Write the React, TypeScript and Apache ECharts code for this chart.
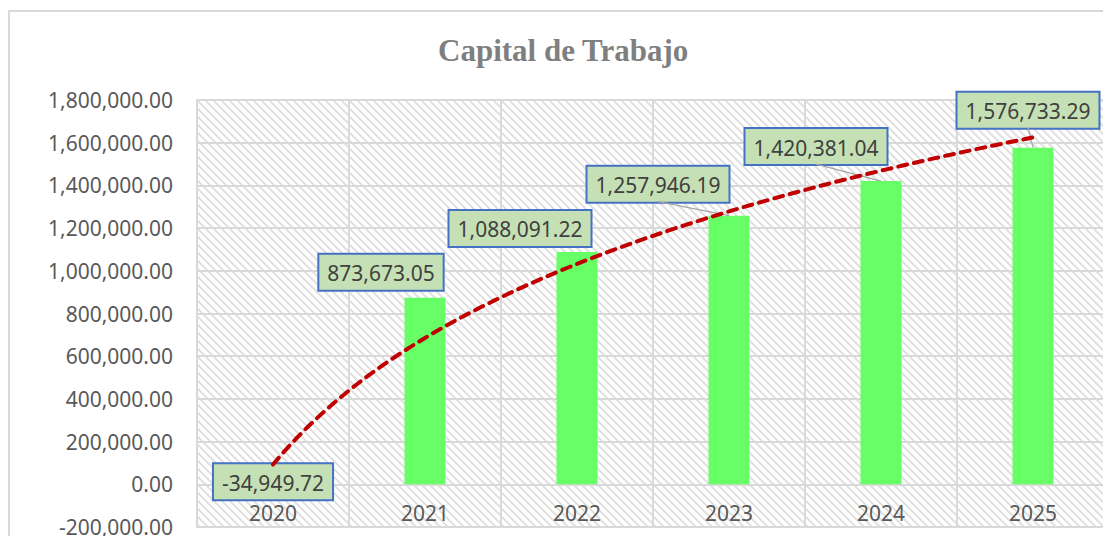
import React, { useEffect, useRef } from "react";
import * as echarts from "echarts";

// ---- data ----
const years: string[] = ["2020", "2021", "2022", "2023", "2024", "2025"];
const capitalTrabajo: number[] = [-34949.72, 873673.05, 1088091.22, 1257946.19, 1420381.04, 1576733.29];
const yMin = -200000;
const yMax = 1800000;
const yStep = 200000;
const chartTitle = "Capital de Trabajo";

// ---- layout ----
const W = 1103;
const H = 536;
const gridTop = 100;
const gridBottom = 9;
const gridLeft = 197;
const gridRight = -6;

// moved data labels (pixels, relative to default 'top' spot) and leader lines
const labelShift = [
  { dx: 0, dy: 15, line: false },
  { dx: -44, dy: -8, line: false },
  { dx: -57, dy: -6, line: false },
  { dx: -71, dy: -14, line: true },
  { dx: -65, dy: -17, line: true },
  { dx: -5, dy: -20, line: true },
];

const fmt = (v: number) =>
  v.toLocaleString("en-US", { minimumFractionDigits: 2, maximumFractionDigits: 2 });

// logarithmic trend line (least squares on ln(x)), as the spreadsheet computes it
function logTrend(values: number[]) {
  const n = values.length;
  const lx = values.map((_, i) => Math.log(i + 1));
  const mx = lx.reduce((s, v) => s + v, 0) / n;
  const my = values.reduce((s, v) => s + v, 0) / n;
  let sxx = 0;
  let sxy = 0;
  for (let i = 0; i < n; i++) {
    sxx += (lx[i] - mx) * (lx[i] - mx);
    sxy += (lx[i] - mx) * (values[i] - my);
  }
  const b = sxy / sxx;
  const a = my - b * mx;
  const pts: number[][] = [];
  const steps = 100;
  for (let k = 0; k <= steps; k++) {
    const x = 1 + ((n - 1) * k) / steps;
    pts.push([x, a + b * Math.log(x)]);
  }
  return pts;
}

function makeHatch(): HTMLCanvasElement {
  const c = document.createElement("canvas");
  c.width = 8;
  c.height = 8;
  const ctx = c.getContext("2d")!;
  const img = ctx.createImageData(8, 8);
  for (let y = 0; y < 8; y++) {
    for (let x = 0; x < 8; x++) {
      const d = (((x - y) % 8) + 8) % 8;
      const on = d < 3;
      const idx = (y * 8 + x) * 4;
      const g = on ? 0xe2 : 0xff;
      img.data[idx] = g;
      img.data[idx + 1] = g;
      img.data[idx + 2] = g;
      img.data[idx + 3] = 255;
    }
  }
  ctx.putImageData(img, 0, 0);
  return c;
}

export default function App() {
  const ref = useRef<HTMLDivElement>(null);

  useEffect(() => {
    document.body.style.margin = "0";
    if (!ref.current) return;
    const chart = echarts.init(ref.current, undefined, { renderer: "svg" });

    // place the category axis where the value axis crosses zero
    const gridH = H - gridTop - gridBottom;
    const zeroOffset = -gridH * ((0 - yMin) / (yMax - yMin));

    const leaderData = capitalTrabajo
      .map((v, i) => [i, v])
      .filter((d) => labelShift[d[0]].line);

    const option: any = {
      animation: false,
      backgroundColor: "#ffffff",
      title: {
        text: chartTitle,
        left: 433,
        top: 30,
        textStyle: {
          fontFamily: "Liberation Serif",
          fontWeight: "bold",
          fontSize: 31,
          color: "#7F7F7F",
        },
      },
      graphic: [
        {
          type: "rect",
          silent: true,
          z: -10,
          shape: { x: 9, y: 11, width: 1200, height: 600 },
          style: { fill: "none", stroke: "#D9D9D9", lineWidth: 2 },
        },
      ],
      grid: {
        left: gridLeft,
        top: gridTop,
        right: gridRight,
        bottom: gridBottom,
        containLabel: false,
        outerBoundsMode: "none",
        show: true,
        backgroundColor: { image: makeHatch(), repeat: "repeat" },
        borderColor: "#D9D9D9",
        borderWidth: 2,
      },
      xAxis: [
        {
          type: "category",
          data: years,
          boundaryGap: true,
          position: "bottom",
          offset: zeroOffset,
          axisLine: { show: true, onZero: false, lineStyle: { color: "#D9D9D9", width: 2 } },
          axisTick: { show: false },
          axisLabel: {
            fontFamily: "Noto Sans",
            fontSize: 21,
            color: "#595959",
            margin: 18,
          },
          splitLine: { show: true, lineStyle: { color: "#D9D9D9", width: 2 } },
        },
        {
          type: "value",
          min: 0.5,
          max: 6.5,
          show: false,
          splitLine: { show: false },
        },
      ],
      yAxis: {
        type: "value",
        min: yMin,
        max: yMax,
        interval: yStep,
        axisLine: { show: false },
        axisTick: { show: false },
        axisLabel: {
          fontFamily: "Noto Sans",
          fontSize: 21,
          color: "#595959",
          margin: 24,
          formatter: (v: number) => fmt(v),
        },
        splitLine: { lineStyle: { color: "#D9D9D9", width: 2 } },
      },
      series: [
        {
          type: "bar",
          name: "Capital de Trabajo",
          data: capitalTrabajo,
          barWidth: 41,
          z: 2,
          itemStyle: { color: "#66FF66" },
          label: {
            show: true,
            position: "top",
            distance: 0,
            formatter: (p: any) => fmt(p.value),
            fontFamily: "Noto Sans",
            fontSize: 21,
            lineHeight: 25,
            color: "#404040",
            backgroundColor: "#C5E0B4",
            borderColor: "#4472C4",
            borderWidth: 2,
            padding: [6, 8, 4, 8],
          },
          labelLayout: (p: any) => ({
            dx: labelShift[p.dataIndex].dx,
            dy: labelShift[p.dataIndex].dy,
          }),
        },
        {
          type: "custom",
          name: "leader",
          xAxisIndex: 0,
          yAxisIndex: 0,
          z: 2.5,
          silent: true,
          data: leaderData,
          encode: { x: 0, y: 1 },
          renderItem: (params: any, api: any) => {
            const i = api.value(0);
            const v = api.value(1);
            const p = api.coord([i, v]);
            const s = labelShift[i];
            return {
              type: "line",
              shape: { x1: p[0] + s.dx, y1: p[1] + s.dy, x2: p[0], y2: p[1] },
              style: { stroke: "#A6A6A6", lineWidth: 1.3 },
            };
          },
        },
        {
          type: "line",
          name: "Tendencia",
          xAxisIndex: 1,
          data: logTrend(capitalTrabajo),
          showSymbol: false,
          symbol: "none",
          z: 3,
          lineStyle: { color: "#C00000", width: 4, type: [9, 7], cap: "round" },
        },
      ],
    };

    chart.setOption(option);
    return () => chart.dispose();
  }, []);

  return <div ref={ref} style={{ width: W, height: H }} />;
}
